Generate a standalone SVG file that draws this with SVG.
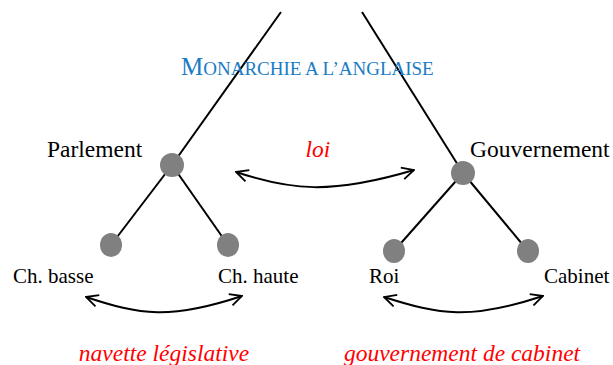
<svg xmlns="http://www.w3.org/2000/svg" width="613" height="365" viewBox="0 0 613 365">
<defs>
<marker id="ah" viewBox="0 0 14 14" refX="13" refY="7" markerWidth="14" markerHeight="14" markerUnits="userSpaceOnUse" orient="auto-start-reverse">
<path d="M1,1 L13,7 L1,13" fill="none" stroke="#000" stroke-width="1.8"/>
</marker>
<style>
.ln{stroke:#000;stroke-width:2;fill:none}
.nd{fill:#808080}
.lb{font-family:"Liberation Serif",serif;fill:#000}
.red{font-family:"Liberation Serif",serif;font-style:italic;fill:#ff0000}
.arr{stroke:#000;stroke-width:2;fill:none;marker-start:url(#ah);marker-end:url(#ah)}
</style>
</defs>
<rect width="613" height="365" fill="#fff"/>
<g id="connectors">
<line class="ln" x1="281" y1="12" x2="172" y2="165"/>
<line class="ln" x1="362" y1="12" x2="463" y2="173"/>
<line class="ln" x1="172" y1="165" x2="111" y2="245"/>
<line class="ln" x1="172" y1="165" x2="228" y2="245"/>
<line class="ln" x1="463" y1="173" x2="394" y2="251"/>
<line class="ln" x1="463" y1="173" x2="528" y2="251"/>
<path class="arr" d="M236,172 C290,190 330,195 414,170"/>
<path class="arr" d="M86,297 C140,315 170,320 242,296"/>
<path class="arr" d="M384,297 C440,315 470,320 543,296"/>
</g>
<g id="title">
<text x="181" y="75" font-family="Liberation Serif,serif" fill="#1a7cc4" font-size="19"><tspan font-size="25">M</tspan>ONARCHIE A L’ANGLAISE</text>
</g>
<g id="parlement">
<ellipse class="nd" cx="172" cy="165" rx="12" ry="12"/>
<text class="lb" x="47" y="157" font-size="23.5">Parlement</text>
</g>
<g id="gouvernement">
<ellipse class="nd" cx="463" cy="173" rx="12" ry="12"/>
<text class="lb" x="470" y="157" font-size="23.5">Gouvernement</text>
</g>
<g id="chbasse">
<ellipse class="nd" cx="111" cy="245" rx="11" ry="12"/>
<text class="lb" x="13" y="283" font-size="21">Ch. basse</text>
</g>
<g id="chhaute">
<ellipse class="nd" cx="228" cy="245" rx="11" ry="12"/>
<text class="lb" x="218" y="283" font-size="21">Ch. haute</text>
</g>
<g id="roi">
<ellipse class="nd" cx="394" cy="251" rx="11" ry="12"/>
<text class="lb" x="369" y="283" font-size="21">Roi</text>
</g>
<g id="cabinet">
<ellipse class="nd" cx="528" cy="251" rx="11" ry="12"/>
<text class="lb" x="544" y="283" font-size="21">Cabinet</text>
</g>
<g id="labels">
<text class="red" x="318" y="157" font-size="23.5" text-anchor="middle">loi</text>
<text class="red" x="164" y="361" font-size="23.5" text-anchor="middle">navette législative</text>
<text class="red" x="462" y="361" font-size="23.5" text-anchor="middle">gouvernement de cabinet</text>
</g>
</svg>
